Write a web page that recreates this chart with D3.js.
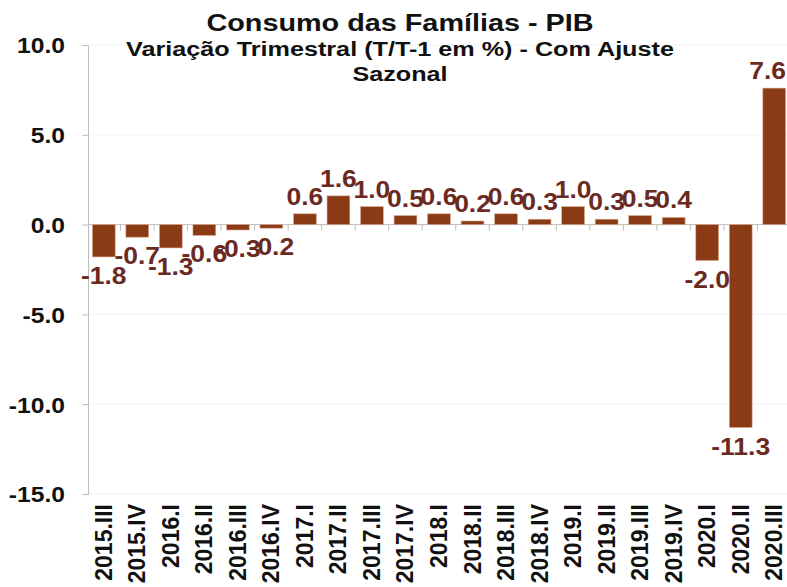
<!DOCTYPE html>
<html>
<head>
<meta charset="utf-8">
<script src="https://cdn.jsdelivr.net/npm/d3@7"></script>
<style>
  body { margin: 0; background: #fff; }
  text { font-family: "Liberation Sans", Arial, sans-serif; font-weight: bold; }
</style>
</head>
<body>
<div id="chart"></div>
<script>
// Chart data
const quarters = ["2015.III", "2015.IV", "2016.I", "2016.II", "2016.III", "2016.IV",
  "2017.I", "2017.II", "2017.III", "2017.IV", "2018.I", "2018.II", "2018.III", "2018.IV",
  "2019.I", "2019.II", "2019.III", "2019.IV", "2020.I", "2020.II", "2020.III"];
const values = [-1.8, -0.7, -1.3, -0.6, -0.3, -0.2, 0.6, 1.6, 1.0, 0.5, 0.6, 0.2, 0.6, 0.3,
  1.0, 0.3, 0.5, 0.4, -2.0, -11.3, 7.6];
const yTicks = [10, 5, 0, -5, -10, -15];
const titleLines = ["Consumo das Famílias - PIB",
  "Variação Trimestral (T/T-1 em %) - Com Ajuste", "Sazonal"];

const data = quarters.map((q, i) => ({ q: q, v: values[i] }));

const width = 787, height = 587;
const fmt = d => d.toFixed(1);   // plain hyphen minus like the original

// the source picture is a bit wider than tall, so text is stretched sideways
function stretch(sel, sx) {
    sel.each(function () {
        var t = d3.select(this);
        var tx = +t.attr("x") || 0, ty = +t.attr("y") || 0;
        t.attr("x", 0).attr("y", 0)
            .attr("transform", "translate(" + tx + "," + ty + ") scale(" + sx + ",1)");
    });
}

var svg = d3.select("#chart").append("svg")
    .attr("width", width)
    .attr("height", height);

var x = d3.scaleBand()
    .domain(quarters)
    .range([87, 791])
    .paddingInner(0.32)
    .paddingOuter(0.16);

var y = d3.scaleLinear()
    .domain([-15, 10])
    .range([494, 45]);

// faint gridlines
svg.append("g")
    .selectAll("line")
    .data(yTicks.filter(d => d !== 0))
    .enter().append("line")
    .attr("x1", 88).attr("x2", 787)
    .attr("y1", d => y(d)).attr("y2", d => y(d))
    .style("stroke", "#f3f3f3");

// y axis
var yAxis = svg.append("g")
    .attr("transform", "translate(88,0)")
    .call(d3.axisLeft(y).tickValues(yTicks).tickFormat(fmt).tickSize(6).tickPadding(17));
yAxis.selectAll("path, line").style("stroke", "#bdbdbd");
yAxis.selectAll("text")
    .style("font-size", "22px")
    .style("fill", "#111")
    .attr("dy", "0.36em");
yAxis.selectAll("text").attr("x", -23);
stretch(yAxis.selectAll("text"), 1.12);

// zero line with ticks at band boundaries
svg.append("line")
    .attr("x1", 88).attr("x2", 787)
    .attr("y1", y(0)).attr("y2", y(0))
    .style("stroke", "#bdbdbd");

svg.append("g")
    .selectAll("line")
    .data(quarters.slice(1))
    .enter().append("line")
    .attr("x1", d => x(d) - x.step() * x.paddingInner() / 2)
    .attr("x2", d => x(d) - x.step() * x.paddingInner() / 2)
    .attr("y1", y(0)).attr("y2", y(0) + 6)
    .style("stroke", "#bdbdbd");

// bars
svg.selectAll(".bar")
    .data(data)
    .enter().append("rect")
    .attr("class", "bar")
    .attr("x", d => x(d.q))
    .attr("width", x.bandwidth())
    .attr("y", d => y(Math.max(0, d.v)))
    .attr("height", d => Math.abs(y(d.v) - y(0)))
    .style("fill", "#8a3a14")
    .style("stroke", "#d9a98f")
    .style("stroke-width", 0.6);

// value labels
var labelStretch = 1.15;
var vals = svg.selectAll(".val")
    .data(data)
    .enter().append("text")
    .attr("class", "val")
    .attr("x", d => x(d.q) + x.bandwidth() / 2)
    .attr("y", d => d.v >= 0 ? y(d.v) - 9 : y(d.v) + 27)
    .attr("text-anchor", "middle")
    .style("font-size", "23px")
    .style("fill", "#6b2a1f")
    .text(d => fmt(d.v));
// keep the last label inside the picture
vals.each(function () {
    var t = d3.select(this);
    var w = this.getBBox().width * labelStretch;
    var cx = +t.attr("x");
    if (cx + w / 2 > width - 1) t.attr("x", width - 1 - w / 2);
});
stretch(vals, labelStretch);

// x labels
svg.selectAll(".xl")
    .data(quarters)
    .enter().append("text")
    .attr("class", "xl")
    .attr("transform", d => "translate(" + (x(d) + x.bandwidth() / 2 + 8) + ",504) rotate(-90)")
    .attr("text-anchor", "end")
    .style("font-size", "23px")
    .style("fill", "#111")
    .text(d => d);

// title
var titles = svg.selectAll(".title")
    .data(titleLines)
    .enter().append("text")
    .attr("class", "title")
    .attr("x", 400)
    .attr("y", (d, i) => [31, 56, 81][i])
    .attr("text-anchor", "middle")
    .style("font-size", (d, i) => i === 0 ? "24px" : "21px")
    .style("fill", "#111")
    .text(d => d);
stretch(titles, 1.2);
</script>
</body>
</html>
